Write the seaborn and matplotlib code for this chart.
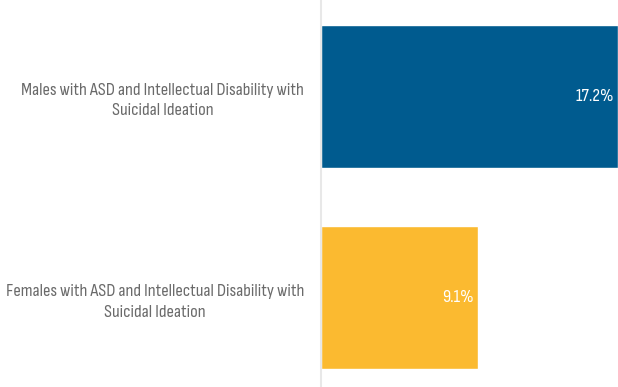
import matplotlib
matplotlib.use("Agg")
import matplotlib.pyplot as plt
from matplotlib import font_manager
import seaborn as sns
import pandas as pd

categories = [
    "Males with ASD and Intellectual Disability with\nSuicidal Ideation",
    "Females with ASD and Intellectual Disability with\nSuicidal Ideation",
]
values = [17.2, 9.1]
value_labels = ["17.2%", "9.1%"]
colors = ["#005b8f", "#fbba30"]

installed = {f.name for f in font_manager.fontManager.ttflist}
family = next((f for f in ["Sofia Sans Condensed", "Barlow Condensed", "PT Sans Narrow"]
               if f in installed), "DejaVu Sans")

sns.set_style("white")
plt.rcParams["font.family"] = [family, "DejaVu Sans"]

df = pd.DataFrame({"label": categories, "value": values})

fig = plt.figure(figsize=(6.18, 3.87), dpi=100)
ax = fig.add_axes([321 / 618, 0.0, 1 - 321 / 618, 1.0])
sns.barplot(data=df, y="label", x="value", hue="label", palette=colors,
            orient="h", width=0.71, legend=False, ax=ax, saturation=1)

ax.set_xlim(0, 17.2)
ax.set_ylim(1.442, -0.479)
ax.set_xlabel("")
ax.set_ylabel("")
ax.set_xticks([])
for s in ["top", "right", "bottom"]:
    ax.spines[s].set_visible(False)
ax.spines["left"].set_color("#e8e8e8")
ax.spines["left"].set_linewidth(1.5)

ax.tick_params(axis="y", length=0, pad=12, labelsize=13.3, labelcolor="#6a6a6a")
for t in ax.get_yticklabels():
    t.set_multialignment("center")
    t.set_linespacing(1.45)

for i, (v, lab) in enumerate(zip(values, value_labels)):
    ax.annotate(lab, xy=(v, i), xytext=(-3, 0), textcoords="offset points",
                ha="right", va="center", color="white", fontsize=13.3)

fig.savefig("out.png", dpi=100)
